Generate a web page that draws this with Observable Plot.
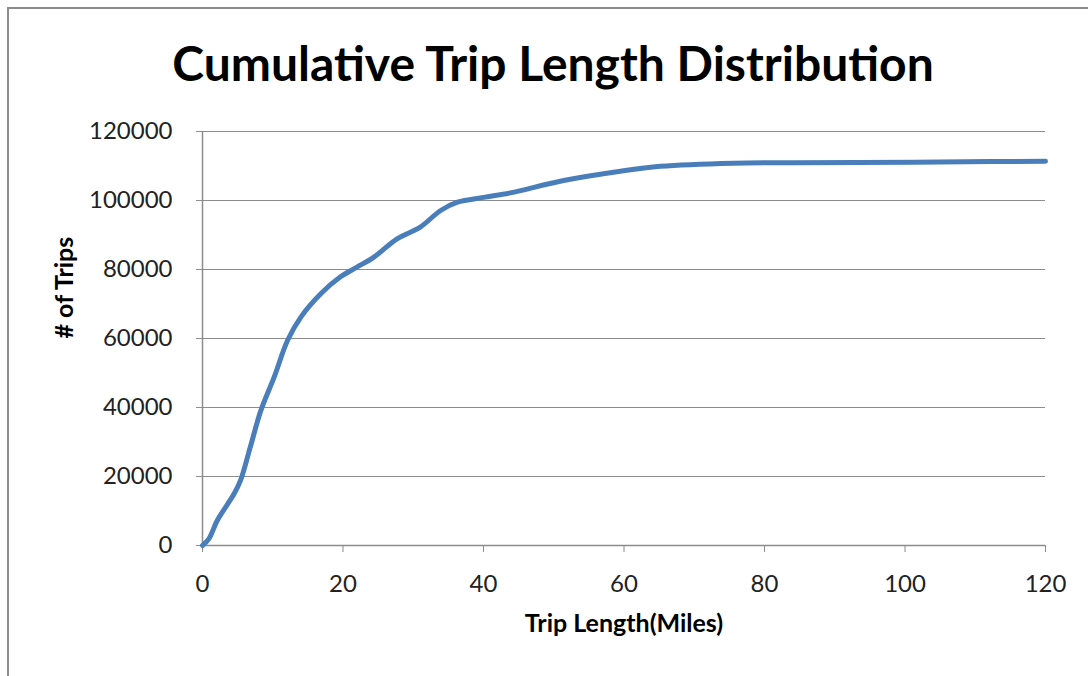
<!DOCTYPE html>
<html>
<head>
<meta charset="utf-8">
<script src="https://cdn.jsdelivr.net/npm/d3@7"></script>
<script src="https://cdn.jsdelivr.net/npm/@observablehq/plot@0.6"></script>
<style>
  html, body { margin: 0; padding: 0; background: #fff; }
  #frame { position: absolute; left: 7px; top: 7px; width: 1100px; height: 700px;
           border-left: 2px solid #8c8c8c; border-top: 2px solid #8c8c8c; box-sizing: border-box; }
  #wrap { position: absolute; left: 0; top: 0; width: 1088px; }
  #title { height: 110px; line-height: 1; font-family: Lato, "Open Sans", sans-serif; font-weight: bold;
           font-size: 48px; color: #000; text-align: center; padding-top: 39px; box-sizing: border-box;
           padding-left: 18px; white-space: nowrap; }
</style>
</head>
<body>
<div id="frame"></div>
<div id="wrap">
  <div id="title">Cumulative Trip Length Distribution</div>
  <div id="chart"></div>
</div>
<script>
const tripLength = [0, 0.9, 2.1, 4.5, 5.4, 6.8, 8.3, 10.2, 12.1, 14.0, 16.8, 19.6, 22.0, 24.4, 27.7, 31.0, 33.9, 36.3, 40.0, 43.8, 51.4, 59.5, 65.2, 75.6, 84.2, 101.3, 112.2, 120];
const trips = [0, 1900, 7250, 15000, 18800, 28500, 39100, 48800, 59400, 66200, 72900, 77800, 80700, 83600, 88900, 92300, 97100, 99500, 100900, 102200, 105800, 108500, 109900, 110800, 110950, 111100, 111300, 111350];
const xTicks = [0, 20, 40, 60, 80, 100, 120];
const yTicks = [0, 20000, 40000, 60000, 80000, 100000, 120000];
const xLabel = "Trip Length(Miles)";
const yLabel = "# of Trips";

const data = tripLength.map((x, i) => ({x, y: trips[i]}));

const chart = Plot.plot({
  width: 1088,
  height: 566,
  marginLeft: 202,
  marginRight: 43,
  marginTop: 21,
  marginBottom: 131,
  style: {fontFamily: "Lato, 'Open Sans', sans-serif", fontSize: "24px", color: "#222", background: "transparent"},
  x: {domain: [0, 120]},
  y: {domain: [0, 120000]},
  marks: [
    Plot.gridY(yTicks, {stroke: "#8c8c8c", strokeOpacity: 1, strokeWidth: 1.2}),
    Plot.ruleX([0], {stroke: "#8c8c8c", strokeWidth: 1.5}),
    Plot.ruleY([0], {stroke: "#8c8c8c", strokeWidth: 1.5}),
    Plot.axisY(yTicks, {tickSize: 6, tickPadding: 24, stroke: "#8c8c8c", label: null, tickFormat: d => String(d), fill: "#222", fontSize: 24}),
    Plot.axisX(xTicks, {tickSize: 7, tickPadding: 22, stroke: "#8c8c8c", label: null, tickFormat: d => String(d), fill: "#222", fontSize: 24}),
    Plot.line(data, {x: "x", y: "y", stroke: "#4a7ebb", strokeWidth: 5, curve: "catmull-rom"}),
    Plot.text([yLabel], {text: d => d, frameAnchor: "left", dx: -138, rotate: -90, fontWeight: "bold", fontSize: 25, fill: "#000"}),
    Plot.text([xLabel], {text: d => d, frameAnchor: "bottom", dy: 86, fontWeight: "bold", fontSize: 25, fill: "#000"})
  ]
});
document.getElementById("chart").appendChild(chart);
</script>
</body>
</html>
